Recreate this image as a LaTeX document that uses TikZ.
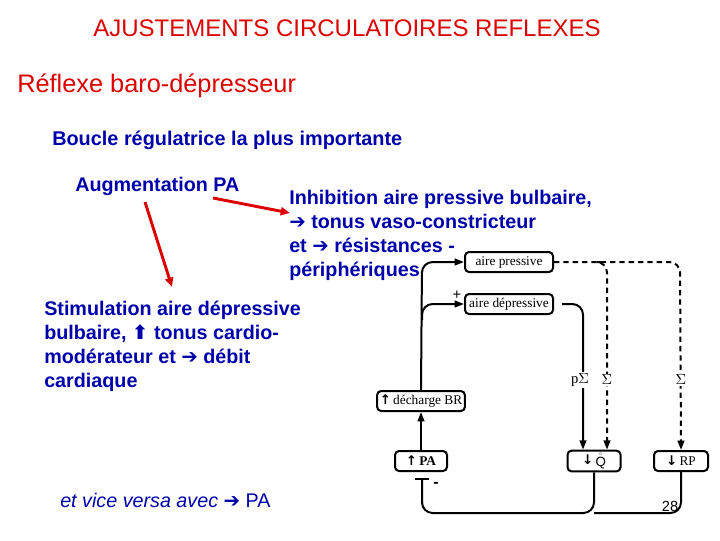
\documentclass[tikz,border=0pt]{standalone}
\usepackage{fontspec}
\setmainfont{Liberation Sans}
\newfontfamily\djfont{DejaVu Sans}
\newfontfamily\serifb{Liberation Serif}
\usetikzlibrary{arrows.meta}
\definecolor{tblue}{RGB}{0,0,170}
\definecolor{tred}{RGB}{220,0,0}
\newcommand{\myar}{{\djfont\symbol{"2794}}}
\begin{document}
\begin{tikzpicture}[x=0.75pt,y=-0.75pt,
  txt/.style={anchor=west,text=tblue,font=\bfseries\fontsize{14.8}{18}\selectfont,align=left,inner sep=0},
  box/.style={draw,line width=1.5pt,rounded corners=3pt,font=\serifb\fontsize{10}{12}\selectfont,minimum height=15pt,inner sep=2pt},
  ln/.style={line width=1.5pt,rounded corners=8pt},
  dl/.style={ln,dashed,dash pattern=on 4pt off 3pt},
  redar/.style={tred,line width=2.2pt,-{Triangle[length=7pt,width=6pt]}},
  blk/.style={-{Triangle[length=7pt,width=5pt]}}]
\useasboundingbox (0,0) rectangle (720,540);
\node[text=tred,font=\fontsize{18}{20}\selectfont] (title) at (347,28) {AJUSTEMENTS CIRCULATOIRES REFLEXES};
\node[anchor=west,text=tred,font=\fontsize{19}{21}\selectfont,inner sep=0] (reflex) at (17,86) {Réflexe baro-dépresseur};
\node[txt,font=\bfseries\fontsize{14.9}{17}\selectfont] (boucle) at (52,140) {Boucle régulatrice la plus importante};
\node[txt] (aug) at (75,186) {Augmentation PA};
\node[txt,anchor=north west] (inhib) at (289,190) {Inhibition aire pressive bulbaire,\\ \myar{} tonus vaso-constricteur\\ et \myar{} résistances -\\ périphériques};
\node[txt,anchor=north west] (stim) at (44,301) {Stimulation aire dépressive\\ bulbaire, {\djfont\symbol{"2B06}} tonus cardio-\\ modérateur et \myar{} débit\\ cardiaque};
\node[txt,font=\fontsize{14.8}{18}\selectfont] (vice) at (60,500) {\textit{et vice versa avec} \myar{} PA};
\coordinate (a1) at (213,198); \coordinate (a2) at (290,213);
\coordinate (b1) at (145,202); \coordinate (b2) at (172,287);
\draw[redar] (a1) -- (a2);
\draw[redar] (b1) -- (b2);
% boxes
\node[box,minimum width=88pt*0.75] (ap) at (509,262) {aire pressive};
\node[box,minimum width=88pt*0.75] (ad) at (509,304) {aire dépressive};
\node[box] (br) at (421,401) {{\djfont\bfseries\symbol{"2191}}\,décharge BR};
\node[box,minimum width=52pt*0.75] (pa) at (421,461) {{\djfont\bfseries\symbol{"2191}}\,\textbf{PA}};
\node[box,minimum width=53pt*0.75] (q) at (594,461) {{\djfont\bfseries\symbol{"2193}}\,\raisebox{-1pt}{$\mathring{\mathrm{Q}}$}};
\node[box,minimum width=54pt*0.75] (rp) at (681,461) {{\djfont\bfseries\symbol{"2193}}\,RP};
% solid connections
\draw[ln,blk] (pa.north) -- (br.south);
\draw[ln,blk] (br.north) -- (422,262) -- (ap.west);
\draw[ln,blk] (422,320) -- (422,304) -- (ad.west);
\node[font=\fontsize{11}{11}\selectfont] (plus) at (457,295) {+};
\coordinate (ad2) at (562,304);
\draw[ln,blk] (ad2) -- (583,304) -- (q.north -| 583,0);
\node[fill=white,inner sep=1pt,font=\serifb\fontsize{11}{12}\selectfont] (ps) at (580,380) {p$\Sigma$};
% dashed
\draw[dl,blk] (ap.east) -- (680,262) -- (rp.north);
\draw[dl,blk] (602,262) -- (607,262) -- (q.north -| 607,0);
\node[fill=white,inner sep=1pt,font=\serifb\fontsize{11}{12}\selectfont] (s1) at (607,380) {$\Sigma$};
\node[fill=white,inner sep=1pt,font=\serifb\fontsize{11}{12}\selectfont] (s2) at (681,380) {$\Sigma$};
% feedback
\coordinate (tb) at (422,479);
\draw[ln] (q.south) -- (594,513) -- (422,513) -- (tb);
\draw[ln] (rp.south) -- (681,513) -- (594,513);
\draw[line width=1.7pt] (415,479) -- (429,479);
\node[font=\bfseries\fontsize{12}{12}\selectfont] (minus) at (436,485) {-};
\node[font=\fontsize{11}{11}\selectfont] (num) at (670,506) {28};
\end{tikzpicture}
\end{document}
